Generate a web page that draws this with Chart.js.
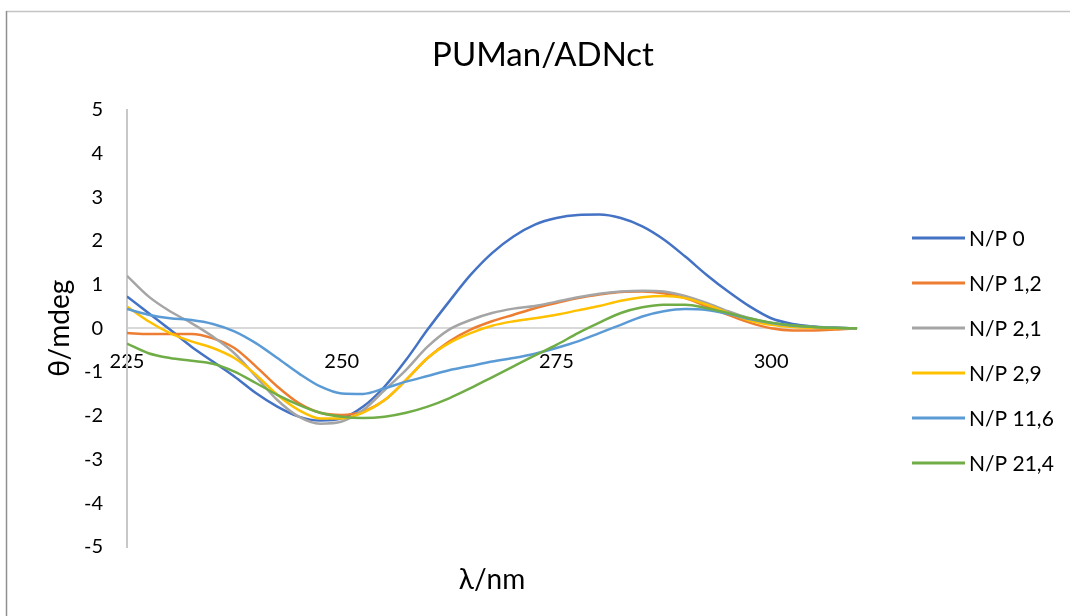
<!DOCTYPE html>
<html>
<head>
<meta charset="utf-8">
<script src="https://cdn.jsdelivr.net/npm/chart.js@4.4.1/dist/chart.umd.min.js"></script>
<style>
	html, body { margin: 0; padding: 0; background: #fff; }
	#wrap { width: 1070px; height: 616px; }
</style>
</head>
<body>
<div id="wrap"><canvas id="cd-chart" width="1070" height="616"></canvas></div>
<script>
// wavelengths (nm) and CD signal (mdeg) per N/P ratio
var lambda = [225, 227.5, 230, 232.5, 235, 237.5, 240, 242.5, 245, 247.5, 250, 252.5, 255, 257.5, 260, 262.5, 265, 267.5,
	270, 272.5, 275, 277.5, 280, 282.5, 285, 287.5, 290, 292.5, 295, 297.5, 300, 302.5, 305, 307.5, 310];
var np0 = [0.73, 0.35, -0.03, -0.42, -0.76, -1.10, -1.48, -1.79, -2.02, -2.11, -2.06, -1.79, -1.33, -0.72, -0.03, 0.61, 1.22, 1.72,
	2.10, 2.37, 2.52, 2.59, 2.60, 2.52, 2.33, 2.03, 1.64, 1.22, 0.84, 0.50, 0.23, 0.10, 0.04, 0.01, 0];
var np1_2 = [-0.11, -0.13, -0.13, -0.13, -0.23, -0.45, -0.87, -1.33, -1.71, -1.93, -1.98, -1.90, -1.64, -1.18, -0.68, -0.30, -0.03, 0.16,
	0.31, 0.46, 0.58, 0.69, 0.77, 0.83, 0.84, 0.80, 0.69, 0.50, 0.31, 0.13, 0.00, -0.05, -0.05, -0.03, 0];
var np2_1 = [1.20, 0.73, 0.39, 0.12, -0.19, -0.57, -1.10, -1.64, -2.02, -2.18, -2.13, -1.87, -1.41, -0.95, -0.42, -0.03, 0.19, 0.35,
	0.45, 0.51, 0.61, 0.71, 0.79, 0.84, 0.86, 0.84, 0.74, 0.58, 0.39, 0.23, 0.12, 0.06, 0.03, 0.01, 0];
var np2_9 = [0.50, 0.16, -0.11, -0.30, -0.45, -0.68, -1.06, -1.52, -1.87, -2.06, -2.06, -1.93, -1.64, -1.18, -0.68, -0.34, -0.11, 0.06,
	0.16, 0.23, 0.31, 0.41, 0.51, 0.63, 0.71, 0.74, 0.69, 0.54, 0.35, 0.18, 0.08, 0.03, 0.01, 0, 0];
var np11_6 = [0.44, 0.31, 0.23, 0.19, 0.10, -0.07, -0.34, -0.68, -1.03, -1.33, -1.49, -1.50, -1.37, -1.22, -1.09, -0.96, -0.86, -0.76,
	-0.68, -0.58, -0.45, -0.30, -0.11, 0.08, 0.27, 0.39, 0.44, 0.42, 0.33, 0.21, 0.12, 0.06, 0.03, 0.01, 0];
var np21_4 = [-0.35, -0.57, -0.68, -0.74, -0.81, -0.99, -1.25, -1.52, -1.75, -1.93, -2.02, -2.05, -2.02, -1.93, -1.79, -1.60, -1.37, -1.12,
	-0.87, -0.62, -0.38, -0.11, 0.13, 0.35, 0.48, 0.54, 0.54, 0.46, 0.35, 0.23, 0.13, 0.07, 0.03, 0.01, 0];

var seriesNames = ['N/P 0', 'N/P 1,2', 'N/P 2,1', 'N/P 2,9', 'N/P 11,6', 'N/P 21,4'];
var seriesValues = [np0, np1_2, np2_1, np2_9, np11_6, np21_4];
var seriesColors = ['#4472C4', '#ED7D31', '#A5A5A5', '#FFC000', '#5B9BD5', '#70AD47'];

var xTicks = [225, 250, 275, 300];
var yMin = -5, yMax = 5;

var FONT = 'Lato, "Open Sans", sans-serif';

var toPoints = function(vals) {
	return vals.map(function(v, i) { return { x: lambda[i], y: v }; });
};

var datasets = seriesNames.map(function(name, i) {
	return {
		label: name,
		data: toPoints(seriesValues[i]),
		borderColor: seriesColors[i],
		backgroundColor: seriesColors[i],
		borderWidth: 2.5,
		pointRadius: 0,
		cubicInterpolationMode: 'monotone',
		order: seriesNames.length - i   // last series on top, like the original
	};
});

// frame, x title and legend drawn by hand
var decor = {
	id: 'decor',
	beforeDraw: function(chart) {
		var ctx = chart.ctx;
		ctx.save();
		ctx.lineWidth = 1.5;
		ctx.strokeStyle = '#c4c4c4';
		ctx.beginPath();
		ctx.moveTo(6, 11.5);
		ctx.lineTo(1070, 11.5);
		ctx.stroke();
		ctx.strokeStyle = '#8f8f8f';
		ctx.beginPath();
		ctx.moveTo(6.5, 11);
		ctx.lineTo(6.5, 616);
		ctx.stroke();
		ctx.restore();
	},
	afterDraw: function(chart) {
		var ctx = chart.ctx;
		var area = chart.chartArea;
		ctx.save();
		ctx.fillStyle = '#000';
		ctx.font = '28px ' + FONT;
		ctx.textAlign = 'center';
		ctx.textBaseline = 'middle';
		ctx.fillText('\u03bb/nm', (area.left + area.right) / 2, 580);

		ctx.font = '21px ' + FONT;
		ctx.textAlign = 'left';
		chart.data.datasets.forEach(function(ds, i) {
			var y = 238 + i * 45;
			ctx.strokeStyle = ds.borderColor;
			ctx.lineWidth = 3;
			ctx.beginPath();
			ctx.moveTo(area.right + 55, y);
			ctx.lineTo(area.right + 108, y);
			ctx.stroke();
			ctx.fillText(ds.label, area.right + 112, y + 1);
		});
		ctx.restore();
	}
};

var ctx = document.getElementById('cd-chart').getContext('2d');
var cdChart = new Chart(ctx, {
	type: 'line',
	data: { datasets: datasets },
	plugins: [decor],
	options: {
		responsive: false,
		animation: false,
		layout: { padding: { left: 16, right: 0, top: 0, bottom: 69 } },
		plugins: {
			legend: { display: false },
			tooltip: { enabled: false },
			title: {
				display: true,
				text: 'PUMan/ADNct',
				color: '#000',
				font: { family: FONT, size: 33, weight: 'normal' },
				padding: { top: 36, bottom: 34 }
			}
		},
		scales: {
			x: {
				type: 'linear',
				min: 225,
				max: 310,
				position: { y: 0 },
				afterBuildTicks: function(scale) {
					scale.ticks = xTicks.map(function(v) { return { value: v }; });
				},
				grid: { display: false, drawTicks: false },
				border: { display: true, color: '#d9d9d9', width: 2 },
				ticks: {
					color: '#000',
					padding: 21,
					maxRotation: 0,
					autoSkip: false,
					font: { family: FONT, size: 20 }
				}
			},
			y: {
				min: yMin,
				max: yMax,
				afterFit: function(scale) { scale.width = 111; },
				grid: { display: false, drawTicks: false },
				border: { display: true, color: '#c8c8c8', width: 2 },
				ticks: {
					stepSize: 1,
					color: '#000',
					padding: 24,
					font: { family: FONT, size: 20 }
				},
				title: {
					display: true,
					text: '\u03b8/mdeg',
					color: '#000',
					font: { family: FONT, size: 28 },
					padding: { top: 27, bottom: 0 }
				}
			},
			// empty axis that keeps room on the right for the legend
			legendRoom: {
				type: 'linear',
				position: 'right',
				afterFit: function(scale) { scale.width = 213; },
				grid: { display: false },
				border: { display: false },
				ticks: { display: false }
			}
		}
	}
});
</script>
</body>
</html>
